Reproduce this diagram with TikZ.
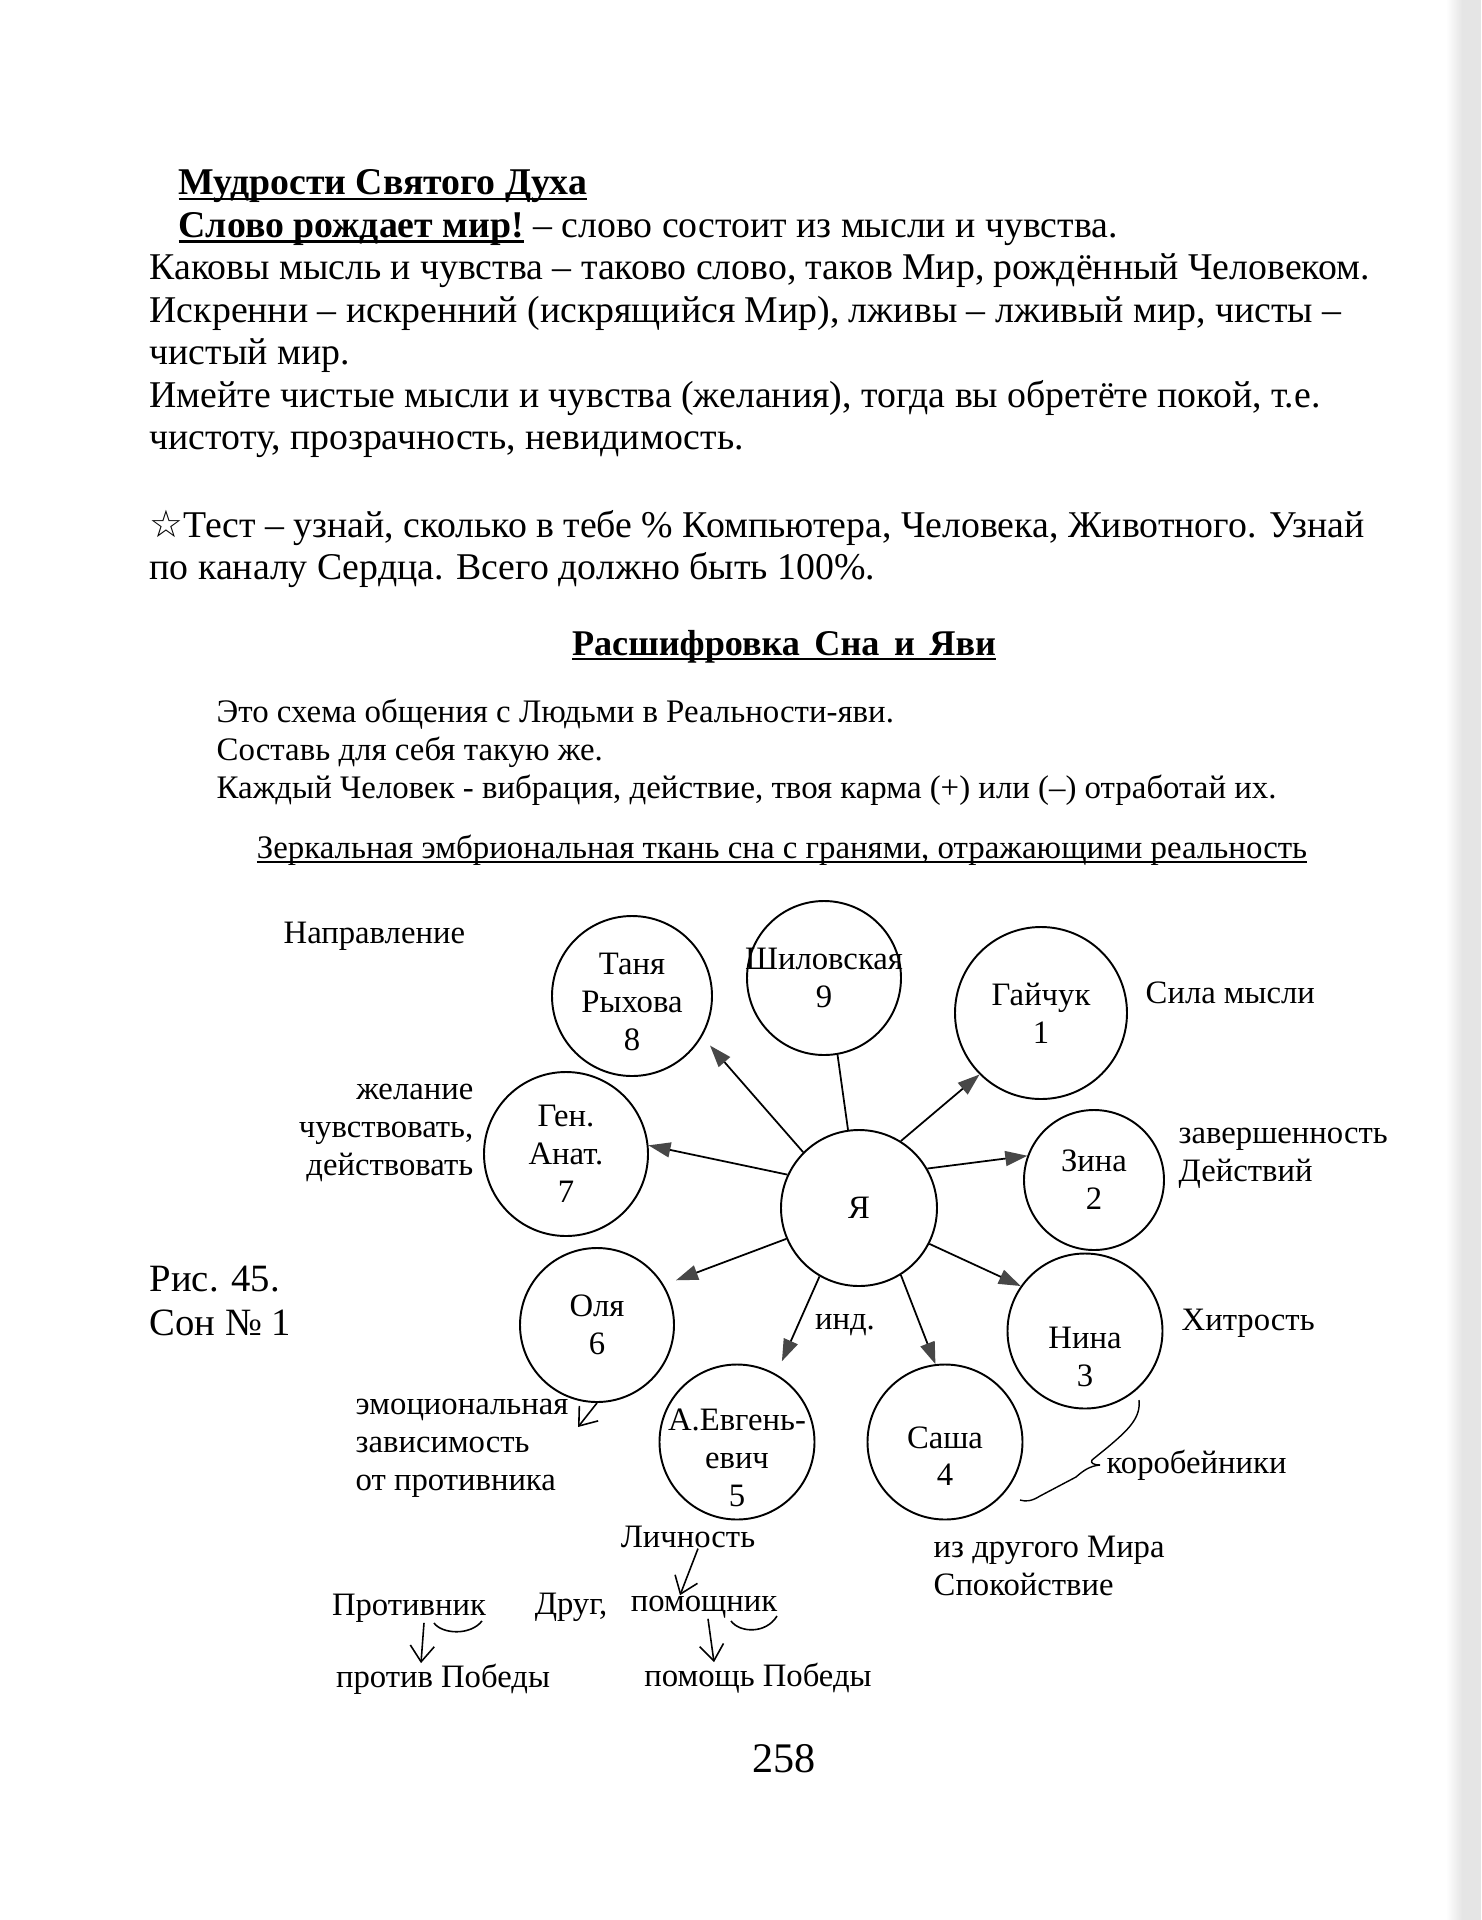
\documentclass[tikz,border=0pt]{standalone}
\usepackage{fontspec}
\setmainfont{Liberation Serif}
\newfontfamily\symbfont{DejaVu Sans}
\usetikzlibrary{arrows.meta,positioning}
\newsavebox\ulbox
\newcommand{\uln}[1]{\sbox\ulbox{#1}\rlap{\rule[-1.5pt]{\wd\ulbox}{0.6pt}}\usebox\ulbox}
\newcommand{\sinktext}[1]{\rule{0pt}{#1}}

\begin{document}
\begin{tikzpicture}[
  x=0.1mm, y=-0.1mm,
  page/.style={inner sep=0pt, align=left, font=\fontsize{10.75}{12.1}\selectfont},
  sub/.style={inner sep=0pt, align=left, font=\fontsize{9.35}{10.9}\selectfont},
  person/.style={draw, circle, line width=0.55pt, inner sep=-3mm, minimum size=15.6mm,
                 align=center, font=\fontsize{9.3}{10.8}\selectfont},
  lab/.style={inner sep=0pt, font=\fontsize{9.3}{10.8}\selectfont},
  arr/.style={-{Triangle[length=2.2mm, width=1.5mm, color=black!72]}, line width=0.5pt},
  hand/.style={-{Straight Barb[length=1.6mm, width=2.4mm]}, line width=0.45pt}
]
\useasboundingbox (0,0) rectangle (1481,1920);
\fill[white] (0,0) rectangle (1481,1920);
% scan edge
\shade[left color=white, right color=black!10] (1446,0) rectangle (1462,1920);
\fill[black!10] (1462,0) rectangle (1481,1920);

% text above the scheme
\node[page, anchor=north west] (wisdom) at (149,169) {%
\hspace*{2.9mm}\textbf{\uln{Мудрости Святого Духа}}\\
\hspace*{2.9mm}\textbf{\uln{Слово рождает мир!}} – слово состоит из мысли и чувства.\\
Каковы мысль и чувства – таково слово, таков Мир, рождённый Человеком.\\
Искренни – искренний (искрящийся Мир), лживы – лживый мир, чисты –\\
чистый мир.\\
Имейте чистые мысли и чувства (желания), тогда вы обретёте покой, т.е.\\
чистоту, прозрачность, невидимость.};
\node[page, anchor=north west] (test) at (149,509) {%
{\symbfont ☆}Тест – узнай, сколько в тебе \% Компьютера, Человека, Животного. Узнай\\
по каналу Сердца. Всего должно быть 100\%.};
\node[page, anchor=base, font=\fontsize{10.3}{12}\selectfont] (decode) at (784,655)
  {\textbf{\uln{Расшифровка\hspace{0.4em}Сна\hspace{0.4em}и\hspace{0.4em}Яви}}};
\node[sub, anchor=north west] (scheme) at (216,698) {%
Это схема общения с Людьми в Реальности-яви.\\
Составь для себя такую же.\\
Каждый Человек - вибрация, действие, твоя карма (+) или (–) отработай их.};
\node[sub, anchor=base] (mirror) at (782,858)
  {\uln{Зеркальная эмбриональная ткань сна с гранями, отражающими реальность}};

% the circles
\node[person] (me) at (859,1208) {Я};
\node[person, minimum size=15.4mm] (shil) at (824,978) {Шиловская\\9};
\node[person, minimum size=16mm] (tanya) at (632,996) {\sinktext{3.4mm}Таня\\Рыхова\\8};
\node[person, minimum size=17.2mm] (gaich) at (1041,1013) {Гайчук\\1};
\node[person, minimum size=16.4mm] (gena) at (566,1154) {Ген.\\Анат.\\7};
\node[person, minimum size=14mm] (zina) at (1094,1180) {Зина\\2};
\node[person, minimum size=15.4mm] (olya) at (597,1325) {Оля\\6};
\node[person, minimum size=15.5mm] (nina) at (1085,1331) {\sinktext{7.4mm}Нина\\3};
\node[person, minimum size=15.5mm] (evg) at (737,1442) {\sinktext{5.4mm}А.Евгень-\\евич\\5};
\node[person, minimum size=15.5mm] (sasha) at (945,1442) {\sinktext{5mm}Саша\\4};

\draw[arr, shorten >=1.2mm] (me.135) -- (tanya.-30);
\draw[line width=0.5pt] (me.98) -- (shil.-80);
\draw[arr] (me.58) -- (gaich.225);
\draw[arr] (me.155) -- (gena.6);
\draw[arr] (me.30) -- (zina.160);
\draw[arr, shorten >=1.3mm] (me.-157) -- (olya.31);
\draw[arr, shorten >=1.4mm] (me.-120) -- (evg.60);
\draw[arr] (me.-58) -- (sasha.97);
\draw[arr] (me.-27) -- (nina.145);
\node[lab] (ind) at (845,1325) {инд.};

% words round the circles
\node[lab, anchor=west] (way) at (283,936) {Направление};
\node[lab, anchor=west] (thought) at (1145,993) {Сила мысли};
\node[lab, anchor=east, align=right] (wish) at (474,1133)
  {желание\\чувствовать,\\действовать};
\node[lab, anchor=west, align=left] (done) at (1178,1158) {завершенность\\Действий};
\node[page, anchor=west, font=\fontsize{11}{12.3}\selectfont] (fig) at (149,1301)
  {Рис. 45.\\Сон № 1};
\node[lab, anchor=west] (cunning) at (1181,1323) {Хитрость};
\node[lab, anchor=west, align=left] (emo) at (355,1448)
  {эмоциональная\\зависимость\\от противника};
\node[lab, anchor=west] (peddlers) at (1106,1465) {коробейники};
\node[lab, anchor=west, align=left] (calm) at (933,1566) {из другого Мира\\Спокойствие};
\node[lab] (lich) at (688,1537) {Личность};
\node[lab] (opp) at (409,1608) {Противник};
\node[lab] (friend) at (571,1607) {Друг,};
\node[lab] (helper) at (704,1607) {помощник};
\node[lab] (against) at (443,1679) {против Победы};
\node[lab] (help) at (758,1678) {помощь Победы};
\node[page, font=\fontsize{12}{13}\selectfont] (pnum) at (784,1759) {258};

% hand drawn marks
\coordinate (emotip) at (578,1427);
\draw[hand] (olya.south) -- (emotip);
\draw[hand] ([xshift=1mm]lich.south) -- ([xshift=-2.4mm]helper.north);
\draw[hand] ([xshift=1.5mm]opp.south) -- ([xshift=-2.2mm]against.north);
\draw[hand] ([xshift=0.4mm]helper.south) -- ([xshift=-4.4mm]help.north);
\draw[line width=0.45pt] (434,1623) .. controls (442,1634) and (470,1636) .. (482,1621);
\draw[line width=0.45pt] (731,1621) .. controls (740,1633) and (766,1634) .. (777,1616);
\draw[line width=0.4pt] (1139,1400) .. controls (1141,1418) and (1128,1430) .. (1108,1447)
  -- (1092,1460) .. controls (1090,1463) and (1094,1465) .. (1100,1465);
\draw[line width=0.4pt] (1100,1465) .. controls (1090,1466) and (1084,1470) .. (1076,1477)
  -- (1040,1496) .. controls (1032,1501) and (1026,1502) .. (1020,1500);
\end{tikzpicture}
\end{document}
